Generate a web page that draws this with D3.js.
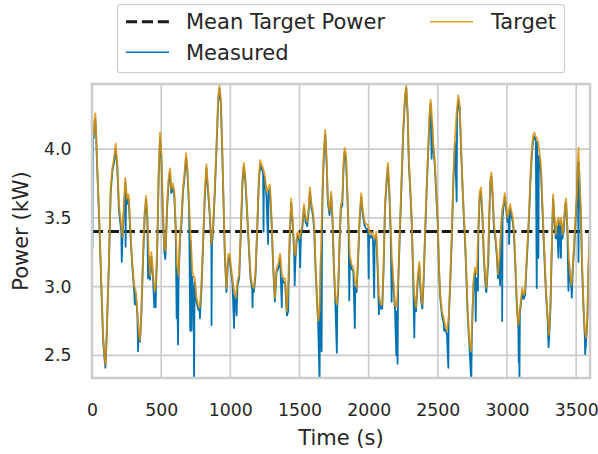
<!DOCTYPE html>
<html>
<head>
<meta charset="utf-8">
<script src="https://cdn.jsdelivr.net/npm/d3@7"></script>
<style>
  html, body { margin: 0; padding: 0; background: #ffffff; }
  svg { display: block; }
  text { font-family: "DejaVu Sans", sans-serif; fill: #262626; }
</style>
</head>
<body>
<svg id="chart" width="598" height="454"></svg>
<script>
// ---- data (time in s, power in kW) ----
const xTicks = [0, 500, 1000, 1500, 2000, 2500, 3000, 3500];
const yTicks = [2.5, 3.0, 3.5, 4.0];
const meanTargetPower = 3.4;
const legendLabels = ["Mean Target Power", "Measured", "Target"];

const targetSeries = [
[0,3.95],[6,4.2],[12,4.1],[20,4.22],[24,4.26],[30,4.12],[36,3.92],[43,3.74],[55,3.43],[68,3.01],[80,2.65],[90,2.5],[97,2.43],[104,2.6],[111,2.82],[123,3.21],[135,3.72],[147,3.86],[159,3.93],[171,4.04],[183,3.89],[195,3.60],[205,3.5],[212,3.45],[220,3.36],[231,3.6],[241,3.79],[253,3.64],[265,3.67],[277,3.43],[289,3.21],[304,3.01],[316,2.97],[328,2.82],[340,2.65],[347,2.61],[357,2.82],[369,3.23],[381,3.55],[391,3.66],[400,3.53],[410,3.25],[419,3.08],[429,3.25],[441,3.10],[453,2.97],[463,3.03],[473,3.36],[482,3.84],[492,4.12],[502,3.96],[511,3.60],[523,3.28],[532,3.26],[542,3.59],[554,3.79],[564,3.86],[573,3.71],[585,3.75],[595,3.69],[605,3.45],[614,3.16],[626,3.08],[636,3.38],[646,3.48],[658,3.72],[670,3.84],[680,3.97],[690,3.86],[702,3.59],[714,3.36],
[726,3.1],[743,3.06],[755,2.92],[767,2.87],[779,2.85],[791,3.01],[803,3.33],[815,3.67],[827,3.89],[839,3.72],[851,3.55],[863,3.31],[876,3.45],[888,3.72],[900,4.03],[912,4.37],[921,4.46],[931,4.37],[941,4.03],[950,3.67],[960,3.26],[972,2.99],[984,3.23],[994,3.24],[1003,3.16],[1015,3.06],[1027,2.97],[1039,2.92],[1052,3.04],[1064,3.09],[1076,3.43],[1088,3.79],[1097,3.90],[1109,3.79],[1122,3.55],[1134,3.31],[1146,3.09],[1158,3.01],[1170,2.99],[1182,3.11],[1194,3.43],[1206,3.79],[1216,3.92],[1225,3.89],[1237,3.86],[1249,3.81],[1261,3.69],[1273,3.72],[1286,3.74],[1298,3.50],[1310,3.16],[1322,2.92],[1334,3.14],[1346,3.16],[1360,3.24],[1372,3.09],[1384,3.06],[1396,3.06],[1409,2.82],[1418,3.01],[1430,3.4],[1440,3.64],[1452,3.47],[1462,3.26],[1471,3.23],[1481,3.38],[1491,3.40],[1500,3.35],[1510,3.40],[1520,3.45],[1532,3.60],[1544,3.50],[1556,3.47],[1568,3.60],[1575,3.72],[1587,3.60],[1597,3.55],[1606,3.45],[1616,3.16],[1626,2.94],[1635,2.75],[1645,2.82],[1655,3.26],[1667,3.72],[1676,3.98],[1686,4.14],[1696,3.93],[1705,3.64],[1717,3.55],[1729,3.69],[1739,3.50],[1749,3.16],[1758,2.94],[1770,2.87],[1780,3.01],[1790,3.35],[1799,3.60],[1809,3.62],[1819,3.91],[1826,4.01],[1836,3.96],[1845,3.72],[1855,3.43],[1864,3.23],[1876,3.16],[1889,3.14],[1901,3.04],[1913,2.99],[1925,3.26],[1934,3.50],[1946,3.68],[1958,3.55],[1971,3.47],[1983,3.45],[1995,3.45],[2007,3.38],[2019,3.40],[2031,3.38],[2043,3.35],[2055,3.40],[2065,3.16],[2074,2.94],[2086,2.87],[2098,2.87],[2108,3.16],[2118,3.60],[2130,3.79],[2139,3.90],[2149,3.72],[2159,3.43],[2168,3.21],[2178,3.05],[2190,2.87],[2202,2.85],[2214,3.06],[2226,3.43],[2238,3.79],[2250,4.15],[2262,4.39],[2272,4.46],[2282,4.27],[2291,3.91],[2301,3.72],[2311,3.50],[2320,3.16],[2330,2.94],[2342,2.85],[2354,3.06],[2366,3.18],[2378,2.94],[2388,2.87],[2397,3.06],[2407,3.38],[2419,3.72],[2431,4.03],[2441,4.27],[2448,4.36],[2458,4.23],[2467,4.03],[2477,3.93],[2489,3.69],[2499,3.50],[2508,3.16],[2518,2.94],[2530,2.82],[2542,2.77],[2554,2.72],[2566,2.68],[2578,2.77],[2588,3.01],[2600,3.35],[2612,3.79],[2624,4.08],[2636,4.27],[2648,4.39],[2658,4.32],[2668,4.03],[2677,3.79],[2687,3.55],[2697,3.35],[2706,3.11],[2716,2.82],[2728,2.60],[2740,2.53],[2750,2.82],[2759,3.06],[2769,3.14],[2781,3.09],[2793,3.43],[2803,3.69],[2812,3.72],[2822,3.55],[2832,3.26],[2841,3.09],[2851,2.99],[2861,3.16],[2870,3.47],[2880,3.79],[2887,3.83],[2897,3.67],[2906,3.45],[2916,3.38],[2926,3.26],[2935,3.09],[2945,3.21],[2955,3.38],[2964,3.55],[2974,3.60],[2984,3.68],[2993,3.60],[3003,3.50],[3013,3.55],[3022,3.60],[3032,3.55],[3042,3.50],[3051,3.40],[3061,3.16],[3070,2.92],[3082,2.72],[3092,2.82],[3102,2.92],[3111,2.99],[3121,2.94],[3131,2.97],[3140,3.16],[3150,3.35],[3160,3.55],[3169,3.79],[3179,3.98],[3189,4.10],[3198,4.12],[3208,4.09],[3218,4.08],[3227,4.03],[3237,3.96],[3247,3.84],[3256,3.60],[3266,3.35],[3276,3.11],[3285,2.92],[3295,2.77],[3304,2.65],[3314,2.87],[3324,3.31],[3333,3.67],[3343,3.50],[3353,3.38],[3362,3.47],[3372,3.50],[3382,3.45],[3391,3.50],[3401,3.38],[3411,3.45],[3420,3.60],[3427,3.64],[3437,3.43],[3447,3.21],[3456,3.09],[3466,3.01],[3476,3.16],[3485,3.31],[3495,3.50],[3505,3.67],[3512,3.93],[3517,4.01],[3524,3.79],[3534,3.55],[3543,3.16],[3553,2.87],[3562,2.68],[3572,2.63],[3582,2.82],[3589,3.16],[3600,3.45]
];

const measuredSeries = [
[0,3.42],[3,3.28],[6,4.15],[12,4.08],[20,4.2],[24,4.22],[30,4.1],[36,3.9],[43,3.72],[55,3.4],[68,2.98],[80,2.62],[90,2.48],[97,2.41],[104,2.58],[111,2.8],[123,3.18],[135,3.68],[147,3.84],[159,3.9],[171,4.0],[183,3.86],[195,3.55],[205,3.46],[212,3.4],[215,3.18],[220,3.33],[231,3.56],[241,3.76],[243,3.29],[246,3.7],[253,3.6],[265,3.64],[277,3.4],[289,3.18],[304,2.98],[310,2.87],[316,2.95],[328,2.8],[333,2.53],[337,2.66],[347,2.6],[357,2.8],[369,3.2],[381,3.52],[391,3.63],[400,3.5],[405,3.06],[410,3.22],[419,3.05],[429,3.22],[441,3.06],[450,2.85],[453,2.95],[460,2.85],[463,3.0],[473,3.33],[482,3.8],[492,4.08],[502,3.92],[511,3.56],[523,3.25],[530,3.2],[532,3.23],[542,3.55],[554,3.76],[564,3.83],[573,3.68],[585,3.72],[595,3.66],[605,3.42],[612,2.77],[614,3.13],[622,2.58],[626,3.05],[636,3.35],[646,3.45],[658,3.69],[670,3.81],[680,3.94],[690,3.83],[702,3.56],[710,2.68],[714,3.33],[720,2.68],[726,3.07],[731,2.82],[734,3.0],[738,2.3],[741,2.95],[743,3.03],[755,2.89],[767,2.84],[779,2.82],[780,2.77],[791,2.98],[803,3.3],[815,3.64],[827,3.86],[839,3.69],[851,3.52],[863,3.28],[864,2.72],[867,3.3],[876,3.42],[888,3.69],[900,4.0],[912,4.34],[921,4.44],[931,4.34],[941,4.0],[950,3.64],[960,3.23],[972,2.96],[984,3.2],[994,3.21],[1003,3.13],[1015,3.03],[1027,2.7],[1030,2.94],[1039,2.89],[1045,2.79],[1052,3.01],[1064,3.06],[1076,3.4],[1088,3.76],[1097,3.87],[1109,3.76],[1122,3.52],[1134,3.28],[1146,3.06],[1158,2.98],[1160,2.85],[1163,2.98],[1170,2.96],[1182,3.08],[1194,3.4],[1206,3.76],[1216,3.89],[1225,3.86],[1237,3.83],[1240,3.4],[1243,3.8],[1249,3.78],[1261,3.66],[1273,3.31],[1276,3.69],[1286,3.71],[1298,3.47],[1310,3.13],[1322,2.89],[1334,3.11],[1346,3.13],[1360,3.21],[1372,2.85],[1375,3.06],[1384,3.03],[1396,3.03],[1409,2.79],[1418,2.82],[1421,3.0],[1430,3.37],[1440,3.61],[1452,3.44],[1462,3.23],[1465,3.01],[1471,3.2],[1481,3.35],[1491,3.37],[1500,3.32],[1505,3.14],[1510,3.37],[1520,3.42],[1532,3.57],[1544,3.47],[1556,3.44],[1568,3.57],[1575,3.69],[1587,3.57],[1597,3.52],[1606,3.42],[1616,3.13],[1626,2.91],[1635,2.72],[1645,2.3],[1648,2.79],[1655,3.23],[1660,2.53],[1663,3.4],[1667,3.69],[1676,3.95],[1686,4.11],[1696,3.9],[1705,3.61],[1717,3.52],[1729,3.66],[1739,3.47],[1749,3.13],[1758,2.91],[1770,2.52],[1773,2.85],[1780,2.98],[1790,3.32],[1799,3.57],[1809,3.59],[1819,3.88],[1826,3.98],[1836,3.93],[1845,3.69],[1855,3.4],[1860,2.9],[1864,3.2],[1876,3.13],[1889,3.11],[1900,2.7],[1903,3.0],[1913,2.96],[1925,3.23],[1934,3.47],[1946,3.65],[1958,3.52],[1971,3.44],[1983,3.42],[1995,3.42],[2000,3.06],[2003,3.4],[2007,3.35],[2019,3.37],[2031,3.35],[2040,2.92],[2043,3.32],[2055,3.37],[2065,3.13],[2074,2.8],[2077,2.9],[2086,2.84],[2098,2.84],[2108,3.13],[2118,3.57],[2130,3.76],[2139,3.87],[2149,3.69],[2159,3.4],[2166,2.89],[2168,3.18],[2178,3.02],[2190,2.84],[2200,2.5],[2202,2.82],[2209,2.44],[2212,2.9],[2214,3.03],[2226,3.4],[2238,3.76],[2250,4.12],[2262,4.36],[2272,4.44],[2282,4.24],[2291,3.88],[2301,3.69],[2311,3.47],[2320,3.13],[2330,2.63],[2333,2.9],[2342,2.82],[2354,3.03],[2366,3.15],[2378,2.91],[2388,2.84],[2397,3.03],[2407,3.35],[2419,3.69],[2431,4.0],[2441,4.24],[2448,4.33],[2455,3.93],[2458,4.2],[2467,4.0],[2477,3.9],[2489,3.66],[2499,3.47],[2508,3.13],[2518,2.91],[2530,2.79],[2542,2.74],[2545,2.68],[2554,2.69],[2566,2.65],[2576,2.41],[2578,2.74],[2588,2.98],[2600,3.32],[2612,3.76],[2624,4.05],[2636,3.62],[2639,4.24],[2648,4.36],[2658,4.29],[2668,4.0],[2677,3.76],[2687,3.52],[2697,3.32],[2706,3.08],[2716,2.79],[2728,2.57],[2742,2.3],[2745,2.6],[2750,2.79],[2759,3.03],[2769,3.11],[2774,2.75],[2777,3.0],[2781,3.06],[2790,2.97],[2793,3.4],[2803,3.66],[2812,3.69],[2822,3.52],[2832,3.23],[2841,3.06],[2848,2.97],[2851,2.96],[2861,3.13],[2865,3.16],[2870,3.44],[2880,3.76],[2887,3.8],[2897,3.64],[2906,3.42],[2916,3.35],[2926,3.23],[2935,3.06],[2945,3.18],[2950,3.01],[2955,3.35],[2964,3.52],[2965,2.75],[2968,3.5],[2974,3.57],[2984,3.65],[2993,3.57],[3003,3.47],[3013,3.52],[3015,3.31],[3022,3.57],[3032,3.52],[3042,3.47],[3051,3.37],[3061,3.13],[3070,2.89],[3082,2.69],[3085,2.45],[3088,2.7],[3090,2.3],[3093,2.8],[3102,2.89],[3111,2.96],[3121,2.91],[3131,2.94],[3140,3.13],[3150,3.32],[3160,3.52],[3169,3.76],[3179,3.95],[3189,4.07],[3198,4.09],[3208,4.06],[3215,2.99],[3218,4.05],[3227,3.21],[3230,3.95],[3237,3.93],[3247,3.81],[3256,3.57],[3266,3.32],[3276,3.08],[3285,2.89],[3295,2.74],[3300,2.56],[3304,2.62],[3314,2.84],[3324,3.28],[3333,3.64],[3343,3.47],[3353,3.35],[3362,3.44],[3372,3.21],[3375,3.47],[3382,3.42],[3390,3.21],[3393,3.47],[3401,3.35],[3411,3.42],[3420,3.57],[3427,3.61],[3437,3.4],[3444,2.97],[3447,3.18],[3456,3.06],[3466,2.98],[3468,2.92],[3476,3.13],[3485,3.28],[3495,3.47],[3505,3.64],[3512,3.9],[3517,3.18],[3520,3.9],[3524,3.76],[3534,3.52],[3543,3.13],[3553,2.84],[3562,2.65],[3565,2.51],[3572,2.6],[3582,2.79],[3589,3.13],[3600,3.42]
];

// ---- layout ----
const plot = { left: 92, right: 590, top: 84, bottom: 378 };
const colors = { measured: "#0173b2", target: "#de8f05", mean: "#1a1a1a", grid: "#cccccc" };

const svg = d3.select("#chart");
const x = d3.scaleLinear().domain([0, 3600]).range([plot.left, plot.right]);
const y = d3.scaleLinear().domain([2.336, 4.473]).range([plot.bottom, plot.top]);

// clip
svg.append("defs").append("clipPath").attr("id", "clip")
  .append("rect").attr("x", plot.left).attr("y", plot.top)
  .attr("width", plot.right - plot.left).attr("height", plot.bottom - plot.top);

// grid
const grid = svg.append("g");
grid.selectAll(".vg").data(xTicks).enter().append("line")
  .attr("x1", d => x(d)).attr("x2", d => x(d))
  .attr("y1", plot.top).attr("y2", plot.bottom)
  .attr("stroke", colors.grid).attr("stroke-width", 1.7);
grid.selectAll(".hg").data(yTicks).enter().append("line")
  .attr("x1", plot.left).attr("x2", plot.right)
  .attr("y1", d => y(d)).attr("y2", d => y(d))
  .attr("stroke", colors.grid).attr("stroke-width", 1.7);

// lines
const g = svg.append("g").attr("clip-path", "url(#clip)");
g.append("line")
  .attr("x1", plot.left).attr("x2", plot.right)
  .attr("y1", y(meanTargetPower)).attr("y2", y(meanTargetPower))
  .attr("stroke", colors.mean).attr("stroke-width", 3)
  .attr("stroke-dasharray", "11.1,4.8");

const line = d3.line().x(d => x(d[0])).y(d => y(d[1]));
g.append("path").datum(measuredSeries).attr("d", line)
  .attr("fill", "none").attr("stroke", colors.measured).attr("stroke-width", 1.8)
  .attr("stroke-linejoin", "round");
g.append("path").datum(targetSeries).attr("d", line)
  .attr("fill", "none").attr("stroke", colors.target).attr("stroke-width", 1.8)
  .attr("stroke-opacity", 0.85).attr("stroke-linejoin", "round");

// frame
svg.append("rect").attr("x", plot.left).attr("y", plot.top)
  .attr("width", plot.right - plot.left).attr("height", plot.bottom - plot.top)
  .attr("fill", "none").attr("stroke", colors.grid).attr("stroke-width", 2.5);

// axes
const xAxis = svg.append("g").attr("transform", `translate(0,${plot.bottom})`)
  .call(d3.axisBottom(x).tickValues(xTicks).tickSize(0).tickPadding(26).tickFormat(d3.format("d")));
const yAxis = svg.append("g").attr("transform", `translate(${plot.left},0)`)
  .call(d3.axisLeft(y).tickValues(yTicks).tickSize(0).tickPadding(20.5).tickFormat(d3.format(".1f")));
[xAxis, yAxis].forEach(a => {
  a.select(".domain").remove();
  a.selectAll("text").attr("font-family", "DejaVu Sans").attr("font-size", 17.3).attr("fill", "#262626");
});

// axis labels
svg.append("text").attr("x", (plot.left + plot.right) / 2).attr("y", 445)
  .attr("text-anchor", "middle").attr("font-size", 21).text("Time (s)");
svg.append("text").attr("transform", `translate(27.5,${(plot.top + plot.bottom) / 2}) rotate(-90)`)
  .attr("text-anchor", "middle").attr("font-size", 21).text("Power (kW)");

// legend
const lg = svg.append("g");
lg.append("rect").attr("x", 117.5).attr("y", 4.7).attr("width", 447).attr("height", 68)
  .attr("rx", 3).attr("fill", "#ffffff").attr("fill-opacity", 0.8)
  .attr("stroke", "#d0d0d0").attr("stroke-width", 1.2);
const items = [
  { label: legendLabels[0], color: colors.mean, dash: "11.1,4.8", w: 3, hx: 126, tx: 186, yy: 21.7, op: 1 },
  { label: legendLabels[1], color: colors.measured, dash: null, w: 1.6, hx: 126, tx: 186, yy: 52.3, op: 1 },
  { label: legendLabels[2], color: colors.target, dash: null, w: 1.6, hx: 430, tx: 491, yy: 21.7, op: 0.85 }
];
items.forEach(it => {
  const l = lg.append("line").attr("x1", it.hx).attr("x2", it.hx + 43)
    .attr("y1", it.yy).attr("y2", it.yy)
    .attr("stroke", it.color).attr("stroke-width", it.w).attr("stroke-opacity", it.op);
  if (it.dash) l.attr("stroke-dasharray", it.dash);
  lg.append("text").attr("x", it.tx).attr("y", it.yy).attr("dy", "0.36em")
    .attr("font-size", 21).text(it.label);
});
</script>
</body>
</html>
